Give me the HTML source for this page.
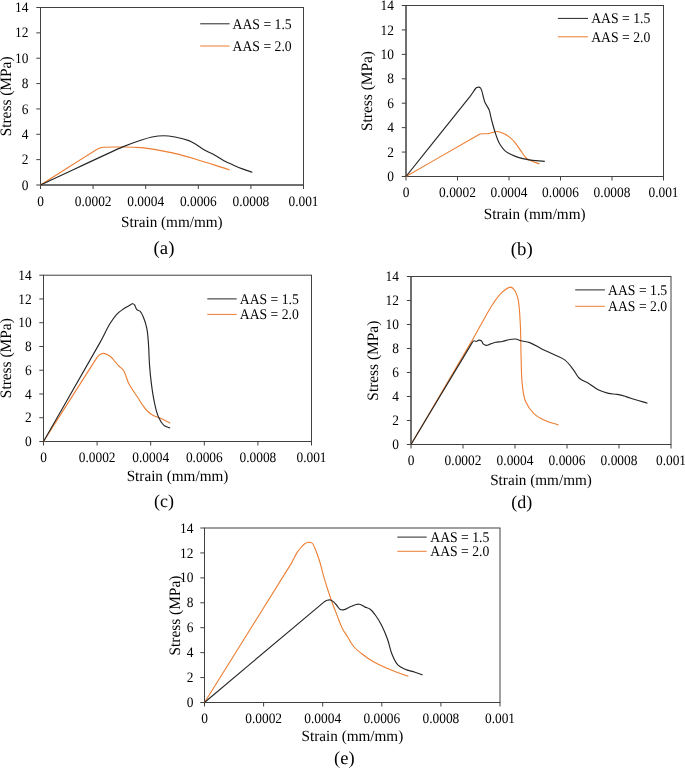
<!DOCTYPE html>
<html><head><meta charset="utf-8"><style>
html,body{margin:0;padding:0;background:#fff;width:685px;height:769px;overflow:hidden;}
svg{display:block;will-change:transform;}
text{font-family:"Liberation Serif", serif;fill:#000;text-rendering:geometricPrecision;}
</style></head><body>
<svg width="685" height="769" viewBox="0 0 685 769">
<rect width="685" height="769" fill="#fff"/>
<rect x="40.50" y="7.50" width="263.00" height="177.50" fill="none" stroke="#404040" stroke-width="1"/>
<line x1="36.30" y1="185.00" x2="40.50" y2="185.00" stroke="#404040" stroke-width="1"/>
<text transform="translate(28.50,189.60) scale(1,1.08)" text-anchor="end" font-size="13.4">0</text>
<line x1="36.30" y1="159.64" x2="40.50" y2="159.64" stroke="#404040" stroke-width="1"/>
<text transform="translate(28.50,164.24) scale(1,1.08)" text-anchor="end" font-size="13.4">2</text>
<line x1="36.30" y1="134.29" x2="40.50" y2="134.29" stroke="#404040" stroke-width="1"/>
<text transform="translate(28.50,138.89) scale(1,1.08)" text-anchor="end" font-size="13.4">4</text>
<line x1="36.30" y1="108.93" x2="40.50" y2="108.93" stroke="#404040" stroke-width="1"/>
<text transform="translate(28.50,113.53) scale(1,1.08)" text-anchor="end" font-size="13.4">6</text>
<line x1="36.30" y1="83.57" x2="40.50" y2="83.57" stroke="#404040" stroke-width="1"/>
<text transform="translate(28.50,88.17) scale(1,1.08)" text-anchor="end" font-size="13.4">8</text>
<line x1="36.30" y1="58.21" x2="40.50" y2="58.21" stroke="#404040" stroke-width="1"/>
<text transform="translate(28.50,62.81) scale(1,1.08)" text-anchor="end" font-size="13.4">10</text>
<line x1="36.30" y1="32.86" x2="40.50" y2="32.86" stroke="#404040" stroke-width="1"/>
<text transform="translate(28.50,37.46) scale(1,1.08)" text-anchor="end" font-size="13.4">12</text>
<line x1="36.30" y1="7.50" x2="40.50" y2="7.50" stroke="#404040" stroke-width="1"/>
<text transform="translate(28.50,12.10) scale(1,1.08)" text-anchor="end" font-size="13.4">14</text>
<line x1="40.50" y1="185.00" x2="40.50" y2="189.00" stroke="#404040" stroke-width="1"/>
<text transform="translate(40.50,205.70) scale(1,1.08)" text-anchor="middle" font-size="13.4">0</text>
<line x1="93.10" y1="185.00" x2="93.10" y2="189.00" stroke="#404040" stroke-width="1"/>
<text transform="translate(93.10,205.70) scale(1,1.08)" text-anchor="middle" font-size="13.4">0.0002</text>
<line x1="145.70" y1="185.00" x2="145.70" y2="189.00" stroke="#404040" stroke-width="1"/>
<text transform="translate(145.70,205.70) scale(1,1.08)" text-anchor="middle" font-size="13.4">0.0004</text>
<line x1="198.30" y1="185.00" x2="198.30" y2="189.00" stroke="#404040" stroke-width="1"/>
<text transform="translate(198.30,205.70) scale(1,1.08)" text-anchor="middle" font-size="13.4">0.0006</text>
<line x1="250.90" y1="185.00" x2="250.90" y2="189.00" stroke="#404040" stroke-width="1"/>
<text transform="translate(250.90,205.70) scale(1,1.08)" text-anchor="middle" font-size="13.4">0.0008</text>
<line x1="303.50" y1="185.00" x2="303.50" y2="189.00" stroke="#404040" stroke-width="1"/>
<text transform="translate(303.50,205.70) scale(1,1.08)" text-anchor="middle" font-size="13.4">0.001</text>
<line x1="40.50" y1="7.50" x2="40.50" y2="185.00" stroke="#404040" stroke-width="1"/>
<line x1="40.50" y1="185.00" x2="303.50" y2="185.00" stroke="#404040" stroke-width="1"/>
<path d="M40.50,185.00 C60.83,172.26 96.40,149.59 98.60,148.60 C100.06,147.94 101.41,147.54 103.00,147.30 C105.38,146.94 115.35,146.95 122.00,147.00 C128.65,147.05 134.37,147.01 141.00,147.60 C146.57,148.09 151.29,148.95 156.80,149.90 C163.38,151.03 169.01,152.06 175.50,153.60 C182.39,155.23 188.21,156.99 195.00,159.00 C205.19,162.01 217.49,166.09 229.60,169.90" fill="none" stroke="#ED7D31" stroke-width="1.1" stroke-linejoin="round"/>
<path d="M40.50,185.00 C69.27,171.66 113.76,150.62 122.70,146.90 C128.66,144.42 133.87,142.53 140.00,140.50 C144.15,139.13 147.71,137.86 152.00,137.00 C156.01,136.20 159.51,135.70 163.60,135.70 C167.62,135.70 171.05,136.26 175.00,137.00 C179.91,137.92 185.38,139.29 188.80,140.60 C191.08,141.47 192.89,142.57 195.00,143.80 C198.17,145.64 201.06,148.02 204.50,150.00 C208.03,152.03 211.34,153.24 214.90,155.20 C217.98,156.90 220.40,158.73 223.50,160.40 C226.74,162.14 229.64,163.39 233.00,164.90 C236.26,166.37 239.06,167.62 242.40,168.90 C245.85,170.22 248.90,171.11 252.40,172.30" fill="none" stroke="#262626" stroke-width="1.15" stroke-linejoin="round"/>
<line x1="200.2" y1="23.8" x2="229.6" y2="23.8" stroke="#262626" stroke-width="1"/>
<line x1="200.2" y1="46.0" x2="229.6" y2="46.0" stroke="#ED7D31" stroke-width="1"/>
<text transform="translate(232.6,28.60) scale(1,1.08)" font-size="13.7">AAS = 1.5</text>
<text transform="translate(232.6,50.80) scale(1,1.08)" font-size="13.7">AAS = 2.0</text>
<text transform="translate(11.10,96.40) rotate(-90) scale(1,1.03)" text-anchor="middle" font-size="15.4">Stress (MPa)</text>
<text transform="translate(171.80,227.40) scale(1,1.03)" text-anchor="middle" font-size="15.2">Strain (mm/mm)</text>
<text x="164.00" y="254.40" text-anchor="middle" font-size="18.8">(a)</text>
<rect x="406.00" y="5.50" width="257.50" height="171.00" fill="none" stroke="#404040" stroke-width="1"/>
<line x1="401.80" y1="176.50" x2="406.00" y2="176.50" stroke="#404040" stroke-width="1"/>
<text transform="translate(394.00,181.10) scale(1,1.08)" text-anchor="end" font-size="13.4">0</text>
<line x1="401.80" y1="152.07" x2="406.00" y2="152.07" stroke="#404040" stroke-width="1"/>
<text transform="translate(394.00,156.67) scale(1,1.08)" text-anchor="end" font-size="13.4">2</text>
<line x1="401.80" y1="127.64" x2="406.00" y2="127.64" stroke="#404040" stroke-width="1"/>
<text transform="translate(394.00,132.24) scale(1,1.08)" text-anchor="end" font-size="13.4">4</text>
<line x1="401.80" y1="103.21" x2="406.00" y2="103.21" stroke="#404040" stroke-width="1"/>
<text transform="translate(394.00,107.81) scale(1,1.08)" text-anchor="end" font-size="13.4">6</text>
<line x1="401.80" y1="78.79" x2="406.00" y2="78.79" stroke="#404040" stroke-width="1"/>
<text transform="translate(394.00,83.39) scale(1,1.08)" text-anchor="end" font-size="13.4">8</text>
<line x1="401.80" y1="54.36" x2="406.00" y2="54.36" stroke="#404040" stroke-width="1"/>
<text transform="translate(394.00,58.96) scale(1,1.08)" text-anchor="end" font-size="13.4">10</text>
<line x1="401.80" y1="29.93" x2="406.00" y2="29.93" stroke="#404040" stroke-width="1"/>
<text transform="translate(394.00,34.53) scale(1,1.08)" text-anchor="end" font-size="13.4">12</text>
<line x1="401.80" y1="5.50" x2="406.00" y2="5.50" stroke="#404040" stroke-width="1"/>
<text transform="translate(394.00,10.10) scale(1,1.08)" text-anchor="end" font-size="13.4">14</text>
<line x1="406.00" y1="176.50" x2="406.00" y2="180.50" stroke="#404040" stroke-width="1"/>
<text transform="translate(406.00,197.20) scale(1,1.08)" text-anchor="middle" font-size="13.4">0</text>
<line x1="457.50" y1="176.50" x2="457.50" y2="180.50" stroke="#404040" stroke-width="1"/>
<text transform="translate(457.50,197.20) scale(1,1.08)" text-anchor="middle" font-size="13.4">0.0002</text>
<line x1="509.00" y1="176.50" x2="509.00" y2="180.50" stroke="#404040" stroke-width="1"/>
<text transform="translate(509.00,197.20) scale(1,1.08)" text-anchor="middle" font-size="13.4">0.0004</text>
<line x1="560.50" y1="176.50" x2="560.50" y2="180.50" stroke="#404040" stroke-width="1"/>
<text transform="translate(560.50,197.20) scale(1,1.08)" text-anchor="middle" font-size="13.4">0.0006</text>
<line x1="612.00" y1="176.50" x2="612.00" y2="180.50" stroke="#404040" stroke-width="1"/>
<text transform="translate(612.00,197.20) scale(1,1.08)" text-anchor="middle" font-size="13.4">0.0008</text>
<line x1="663.50" y1="176.50" x2="663.50" y2="180.50" stroke="#404040" stroke-width="1"/>
<text transform="translate(663.50,197.20) scale(1,1.08)" text-anchor="middle" font-size="13.4">0.001</text>
<line x1="406.00" y1="5.50" x2="406.00" y2="176.50" stroke="#404040" stroke-width="1"/>
<line x1="406.00" y1="176.50" x2="663.50" y2="176.50" stroke="#404040" stroke-width="1"/>
<path d="M406.00,176.50 C431.73,161.73 478.25,134.77 479.50,134.30 C480.34,133.99 481.11,133.90 482.00,133.80 C483.33,133.66 485.46,133.94 487.30,133.70 C489.48,133.42 491.67,132.60 493.40,132.20 C494.55,131.94 495.52,131.53 496.70,131.50 C497.83,131.47 498.82,131.64 499.90,132.00 C501.51,132.53 506.24,134.72 509.20,136.90 C511.51,138.60 513.14,140.51 515.00,142.70 C517.29,145.39 518.79,148.06 520.90,150.90 C522.89,153.59 524.11,156.38 526.70,158.50 C528.48,159.96 530.49,160.49 532.60,161.40 C535.00,162.43 537.15,163.09 539.60,164.00" fill="none" stroke="#ED7D31" stroke-width="1.1" stroke-linejoin="round"/>
<path d="M406.00,176.50 C428.44,148.47 467.29,100.19 470.10,96.40 C471.98,93.88 474.46,89.83 475.20,89.00 C475.69,88.44 476.14,87.95 476.80,87.60 C477.41,87.28 478.02,87.04 478.70,87.10 C479.35,87.16 479.94,87.43 480.40,87.90 C481.10,88.60 481.41,89.81 481.80,90.90 C482.38,92.54 482.80,95.01 483.40,97.20 C483.92,99.10 484.21,100.79 485.00,102.60 C485.63,104.05 486.54,105.11 487.30,106.50 C488.04,107.84 488.77,108.96 489.30,110.40 C490.09,112.53 490.26,114.50 490.80,116.70 C491.48,119.44 492.05,121.78 492.80,124.50 C493.56,127.24 494.23,129.59 495.10,132.30 C495.98,135.02 496.67,137.38 497.80,140.00 C498.61,141.88 499.38,143.48 500.50,145.20 C501.90,147.35 503.11,149.29 505.10,150.90 C508.09,153.32 512.87,155.45 517.40,157.10 C520.95,158.40 524.18,158.96 527.90,159.60 C533.48,160.56 538.88,160.77 544.80,161.40" fill="none" stroke="#262626" stroke-width="1.15" stroke-linejoin="round"/>
<line x1="557.9" y1="18.4" x2="588.0" y2="18.4" stroke="#262626" stroke-width="1"/>
<line x1="557.9" y1="36.8" x2="588.0" y2="36.8" stroke="#ED7D31" stroke-width="1"/>
<text transform="translate(591.2,23.20) scale(1,1.08)" font-size="13.7">AAS = 1.5</text>
<text transform="translate(591.2,41.60) scale(1,1.08)" font-size="13.7">AAS = 2.0</text>
<text transform="translate(372.40,91.00) rotate(-90) scale(1,1.03)" text-anchor="middle" font-size="15.4">Stress (MPa)</text>
<text transform="translate(534.70,219.00) scale(1,1.03)" text-anchor="middle" font-size="15.2">Strain (mm/mm)</text>
<text x="521.80" y="254.75" text-anchor="middle" font-size="18.8">(b)</text>
<rect x="43.50" y="275.20" width="268.00" height="166.30" fill="none" stroke="#404040" stroke-width="1"/>
<line x1="39.30" y1="441.50" x2="43.50" y2="441.50" stroke="#404040" stroke-width="1"/>
<text transform="translate(31.60,446.10) scale(1,1.08)" text-anchor="end" font-size="13.4">0</text>
<line x1="39.30" y1="417.74" x2="43.50" y2="417.74" stroke="#404040" stroke-width="1"/>
<text transform="translate(31.60,422.34) scale(1,1.08)" text-anchor="end" font-size="13.4">2</text>
<line x1="39.30" y1="393.99" x2="43.50" y2="393.99" stroke="#404040" stroke-width="1"/>
<text transform="translate(31.60,398.59) scale(1,1.08)" text-anchor="end" font-size="13.4">4</text>
<line x1="39.30" y1="370.23" x2="43.50" y2="370.23" stroke="#404040" stroke-width="1"/>
<text transform="translate(31.60,374.83) scale(1,1.08)" text-anchor="end" font-size="13.4">6</text>
<line x1="39.30" y1="346.47" x2="43.50" y2="346.47" stroke="#404040" stroke-width="1"/>
<text transform="translate(31.60,351.07) scale(1,1.08)" text-anchor="end" font-size="13.4">8</text>
<line x1="39.30" y1="322.71" x2="43.50" y2="322.71" stroke="#404040" stroke-width="1"/>
<text transform="translate(31.60,327.31) scale(1,1.08)" text-anchor="end" font-size="13.4">10</text>
<line x1="39.30" y1="298.96" x2="43.50" y2="298.96" stroke="#404040" stroke-width="1"/>
<text transform="translate(31.60,303.56) scale(1,1.08)" text-anchor="end" font-size="13.4">12</text>
<line x1="39.30" y1="275.20" x2="43.50" y2="275.20" stroke="#404040" stroke-width="1"/>
<text transform="translate(31.60,279.80) scale(1,1.08)" text-anchor="end" font-size="13.4">14</text>
<line x1="43.50" y1="441.50" x2="43.50" y2="445.50" stroke="#404040" stroke-width="1"/>
<text transform="translate(43.50,461.80) scale(1,1.08)" text-anchor="middle" font-size="13.4">0</text>
<line x1="97.10" y1="441.50" x2="97.10" y2="445.50" stroke="#404040" stroke-width="1"/>
<text transform="translate(97.10,461.80) scale(1,1.08)" text-anchor="middle" font-size="13.4">0.0002</text>
<line x1="150.70" y1="441.50" x2="150.70" y2="445.50" stroke="#404040" stroke-width="1"/>
<text transform="translate(150.70,461.80) scale(1,1.08)" text-anchor="middle" font-size="13.4">0.0004</text>
<line x1="204.30" y1="441.50" x2="204.30" y2="445.50" stroke="#404040" stroke-width="1"/>
<text transform="translate(204.30,461.80) scale(1,1.08)" text-anchor="middle" font-size="13.4">0.0006</text>
<line x1="257.90" y1="441.50" x2="257.90" y2="445.50" stroke="#404040" stroke-width="1"/>
<text transform="translate(257.90,461.80) scale(1,1.08)" text-anchor="middle" font-size="13.4">0.0008</text>
<line x1="311.50" y1="441.50" x2="311.50" y2="445.50" stroke="#404040" stroke-width="1"/>
<text transform="translate(311.50,461.80) scale(1,1.08)" text-anchor="middle" font-size="13.4">0.001</text>
<line x1="43.50" y1="275.20" x2="43.50" y2="441.50" stroke="#404040" stroke-width="1"/>
<line x1="43.50" y1="441.50" x2="311.50" y2="441.50" stroke="#404040" stroke-width="1"/>
<path d="M43.50,441.50 C62.19,412.13 95.60,359.22 96.90,357.60 C97.77,356.52 98.55,355.57 99.70,354.80 C100.77,354.09 101.81,353.47 103.10,353.40 C104.59,353.32 105.85,353.96 107.20,354.60 C108.84,355.37 110.15,356.29 111.50,357.50 C113.00,358.85 113.89,360.37 115.20,361.90 C116.44,363.35 117.45,364.65 118.80,366.00 C120.29,367.49 122.06,368.29 123.30,370.00 C124.69,371.92 125.12,374.00 126.00,376.20 C126.94,378.55 127.41,380.71 128.50,383.00 C129.65,385.39 130.98,387.26 132.40,389.50 C134.52,392.87 137.17,396.60 138.90,399.30 C140.05,401.10 140.87,402.75 142.10,404.50 C143.78,406.88 145.21,408.97 147.30,411.00 C148.93,412.58 150.53,413.76 152.50,414.90 C154.97,416.33 157.40,416.92 160.00,418.10 C163.61,419.74 166.63,421.29 170.20,423.00" fill="none" stroke="#ED7D31" stroke-width="1.1" stroke-linejoin="round"/>
<path d="M43.50,441.50 C63.31,406.81 94.64,352.34 100.10,342.40 C103.74,335.77 106.91,328.55 110.20,323.30 C112.40,319.80 114.37,316.69 117.20,313.80 C119.09,311.87 121.07,310.62 123.30,309.10 C124.99,307.95 126.52,307.10 128.30,306.10 C129.88,305.21 131.71,303.59 132.90,303.70 C133.69,303.77 134.20,304.48 134.70,305.10 C135.45,306.04 135.59,308.35 136.80,309.60 C137.67,310.50 139.09,310.34 140.00,311.20 C141.36,312.49 142.45,314.98 143.40,317.20 C144.83,320.53 145.99,324.32 146.80,328.30 C147.93,333.85 148.06,338.75 148.50,344.40 C149.05,351.46 148.97,357.54 149.50,364.60 C150.02,371.65 150.57,377.69 151.50,384.70 C152.35,391.10 153.09,396.60 154.50,402.90 C155.62,407.91 156.45,412.41 158.50,417.00 C159.86,420.06 161.08,422.90 163.60,425.10 C165.51,426.77 167.89,427.05 170.20,428.10" fill="none" stroke="#262626" stroke-width="1.15" stroke-linejoin="round"/>
<line x1="207.3" y1="298.9" x2="236.7" y2="298.9" stroke="#262626" stroke-width="1"/>
<line x1="207.3" y1="314.4" x2="236.7" y2="314.4" stroke="#ED7D31" stroke-width="1"/>
<text transform="translate(239.8,303.70) scale(1,1.08)" font-size="13.7">AAS = 1.5</text>
<text transform="translate(239.8,319.20) scale(1,1.08)" font-size="13.7">AAS = 2.0</text>
<text transform="translate(11.20,358.20) rotate(-90) scale(1,1.03)" text-anchor="middle" font-size="15.4">Stress (MPa)</text>
<text transform="translate(177.50,481.20) scale(1,1.03)" text-anchor="middle" font-size="15.2">Strain (mm/mm)</text>
<text x="164.10" y="507.40" text-anchor="middle" font-size="18.0">(c)</text>
<rect x="411.00" y="276.50" width="260.00" height="168.00" fill="none" stroke="#404040" stroke-width="1"/>
<line x1="406.80" y1="444.50" x2="411.00" y2="444.50" stroke="#404040" stroke-width="1"/>
<text transform="translate(399.00,449.10) scale(1,1.08)" text-anchor="end" font-size="13.4">0</text>
<line x1="406.80" y1="420.50" x2="411.00" y2="420.50" stroke="#404040" stroke-width="1"/>
<text transform="translate(399.00,425.10) scale(1,1.08)" text-anchor="end" font-size="13.4">2</text>
<line x1="406.80" y1="396.50" x2="411.00" y2="396.50" stroke="#404040" stroke-width="1"/>
<text transform="translate(399.00,401.10) scale(1,1.08)" text-anchor="end" font-size="13.4">4</text>
<line x1="406.80" y1="372.50" x2="411.00" y2="372.50" stroke="#404040" stroke-width="1"/>
<text transform="translate(399.00,377.10) scale(1,1.08)" text-anchor="end" font-size="13.4">6</text>
<line x1="406.80" y1="348.50" x2="411.00" y2="348.50" stroke="#404040" stroke-width="1"/>
<text transform="translate(399.00,353.10) scale(1,1.08)" text-anchor="end" font-size="13.4">8</text>
<line x1="406.80" y1="324.50" x2="411.00" y2="324.50" stroke="#404040" stroke-width="1"/>
<text transform="translate(399.00,329.10) scale(1,1.08)" text-anchor="end" font-size="13.4">10</text>
<line x1="406.80" y1="300.50" x2="411.00" y2="300.50" stroke="#404040" stroke-width="1"/>
<text transform="translate(399.00,305.10) scale(1,1.08)" text-anchor="end" font-size="13.4">12</text>
<line x1="406.80" y1="276.50" x2="411.00" y2="276.50" stroke="#404040" stroke-width="1"/>
<text transform="translate(399.00,281.10) scale(1,1.08)" text-anchor="end" font-size="13.4">14</text>
<line x1="411.00" y1="444.50" x2="411.00" y2="448.50" stroke="#404040" stroke-width="1"/>
<text transform="translate(411.00,464.70) scale(1,1.08)" text-anchor="middle" font-size="13.4">0</text>
<line x1="463.00" y1="444.50" x2="463.00" y2="448.50" stroke="#404040" stroke-width="1"/>
<text transform="translate(463.00,464.70) scale(1,1.08)" text-anchor="middle" font-size="13.4">0.0002</text>
<line x1="515.00" y1="444.50" x2="515.00" y2="448.50" stroke="#404040" stroke-width="1"/>
<text transform="translate(515.00,464.70) scale(1,1.08)" text-anchor="middle" font-size="13.4">0.0004</text>
<line x1="567.00" y1="444.50" x2="567.00" y2="448.50" stroke="#404040" stroke-width="1"/>
<text transform="translate(567.00,464.70) scale(1,1.08)" text-anchor="middle" font-size="13.4">0.0006</text>
<line x1="619.00" y1="444.50" x2="619.00" y2="448.50" stroke="#404040" stroke-width="1"/>
<text transform="translate(619.00,464.70) scale(1,1.08)" text-anchor="middle" font-size="13.4">0.0008</text>
<line x1="671.00" y1="444.50" x2="671.00" y2="448.50" stroke="#404040" stroke-width="1"/>
<text transform="translate(671.00,464.70) scale(1,1.08)" text-anchor="middle" font-size="13.4">0.001</text>
<line x1="411.00" y1="276.50" x2="411.00" y2="444.50" stroke="#404040" stroke-width="1"/>
<line x1="411.00" y1="444.50" x2="671.00" y2="444.50" stroke="#404040" stroke-width="1"/>
<path d="M411.00,444.50 C432.11,408.59 465.36,352.28 471.30,341.90 C475.26,334.98 478.44,328.92 482.40,322.00 C486.18,315.38 489.18,309.31 493.40,303.20 C496.22,299.13 498.57,295.46 502.30,292.20 C504.89,289.94 508.24,286.95 510.70,287.10 C512.34,287.20 513.42,288.68 514.40,290.00 C515.87,291.99 517.37,296.28 518.20,299.90 C519.45,305.33 519.83,315.68 520.30,324.20 C520.94,335.81 520.70,345.78 521.10,357.40 C521.42,366.89 521.23,375.47 522.30,384.50 C523.01,390.52 523.25,395.91 525.60,401.50 C527.63,406.32 530.29,410.21 534.10,413.80 C537.35,416.86 540.95,418.53 545.00,420.40 C549.55,422.50 553.84,423.32 558.60,424.90" fill="none" stroke="#ED7D31" stroke-width="1.1" stroke-linejoin="round"/>
<path d="M411.00,444.50 C432.11,409.36 470.01,345.93 471.30,344.10 C472.16,342.88 472.84,341.14 474.00,340.80 C474.77,340.57 475.39,341.56 476.20,341.50 C477.29,341.41 477.91,340.19 479.00,340.10 C479.84,340.03 480.62,340.30 481.30,340.80 C482.31,341.55 482.45,343.20 483.50,344.10 C484.32,344.80 485.22,345.34 486.30,345.40 C487.70,345.47 488.77,344.55 490.10,344.10 C492.02,343.46 493.62,342.74 495.60,342.30 C497.91,341.79 499.98,341.95 502.30,341.50 C504.65,341.04 506.55,340.14 508.90,339.70 C511.18,339.27 513.19,338.75 515.50,339.00 C517.48,339.21 518.98,340.28 520.90,340.80 C523.79,341.57 526.74,341.54 529.70,342.60 C534.14,344.18 537.45,346.80 541.70,348.90 C546.64,351.34 551.39,353.27 556.00,355.50 C559.07,356.99 562.00,357.81 564.70,359.90 C568.39,362.75 570.64,366.21 573.50,369.90 C575.60,372.61 576.48,375.68 579.00,378.00 C581.90,380.66 585.45,381.45 588.80,383.50 C592.35,385.68 594.96,388.26 598.70,390.10 C601.95,391.70 604.97,392.61 608.50,393.40 C611.53,394.07 614.25,393.84 617.30,394.40 C620.39,394.96 622.98,395.72 626.00,396.60 C629.11,397.51 631.70,398.54 634.80,399.50 C639.22,400.87 643.05,401.90 647.50,403.20" fill="none" stroke="#262626" stroke-width="1.15" stroke-linejoin="round"/>
<line x1="575.2" y1="289.9" x2="604.9" y2="289.9" stroke="#262626" stroke-width="1"/>
<line x1="575.2" y1="306.3" x2="604.9" y2="306.3" stroke="#ED7D31" stroke-width="1"/>
<text transform="translate(608.1,294.70) scale(1,1.08)" font-size="13.7">AAS = 1.5</text>
<text transform="translate(608.1,311.10) scale(1,1.08)" font-size="13.7">AAS = 2.0</text>
<text transform="translate(377.90,360.70) rotate(-90) scale(1,1.03)" text-anchor="middle" font-size="15.4">Stress (MPa)</text>
<text transform="translate(541.00,484.60) scale(1,1.03)" text-anchor="middle" font-size="15.2">Strain (mm/mm)</text>
<text x="521.80" y="507.80" text-anchor="middle" font-size="18.0">(d)</text>
<rect x="204.50" y="528.00" width="295.50" height="174.50" fill="none" stroke="#404040" stroke-width="1"/>
<line x1="200.30" y1="702.50" x2="204.50" y2="702.50" stroke="#404040" stroke-width="1"/>
<text transform="translate(193.50,707.10) scale(1,1.08)" text-anchor="end" font-size="13.4">0</text>
<line x1="200.30" y1="677.57" x2="204.50" y2="677.57" stroke="#404040" stroke-width="1"/>
<text transform="translate(193.50,682.17) scale(1,1.08)" text-anchor="end" font-size="13.4">2</text>
<line x1="200.30" y1="652.64" x2="204.50" y2="652.64" stroke="#404040" stroke-width="1"/>
<text transform="translate(193.50,657.24) scale(1,1.08)" text-anchor="end" font-size="13.4">4</text>
<line x1="200.30" y1="627.71" x2="204.50" y2="627.71" stroke="#404040" stroke-width="1"/>
<text transform="translate(193.50,632.31) scale(1,1.08)" text-anchor="end" font-size="13.4">6</text>
<line x1="200.30" y1="602.79" x2="204.50" y2="602.79" stroke="#404040" stroke-width="1"/>
<text transform="translate(193.50,607.39) scale(1,1.08)" text-anchor="end" font-size="13.4">8</text>
<line x1="200.30" y1="577.86" x2="204.50" y2="577.86" stroke="#404040" stroke-width="1"/>
<text transform="translate(193.50,582.46) scale(1,1.08)" text-anchor="end" font-size="13.4">10</text>
<line x1="200.30" y1="552.93" x2="204.50" y2="552.93" stroke="#404040" stroke-width="1"/>
<text transform="translate(193.50,557.53) scale(1,1.08)" text-anchor="end" font-size="13.4">12</text>
<line x1="200.30" y1="528.00" x2="204.50" y2="528.00" stroke="#404040" stroke-width="1"/>
<text transform="translate(193.50,532.60) scale(1,1.08)" text-anchor="end" font-size="13.4">14</text>
<line x1="204.50" y1="702.50" x2="204.50" y2="706.50" stroke="#404040" stroke-width="1"/>
<text transform="translate(204.50,723.20) scale(1,1.08)" text-anchor="middle" font-size="13.4">0</text>
<line x1="263.60" y1="702.50" x2="263.60" y2="706.50" stroke="#404040" stroke-width="1"/>
<text transform="translate(263.60,723.20) scale(1,1.08)" text-anchor="middle" font-size="13.4">0.0002</text>
<line x1="322.70" y1="702.50" x2="322.70" y2="706.50" stroke="#404040" stroke-width="1"/>
<text transform="translate(322.70,723.20) scale(1,1.08)" text-anchor="middle" font-size="13.4">0.0004</text>
<line x1="381.80" y1="702.50" x2="381.80" y2="706.50" stroke="#404040" stroke-width="1"/>
<text transform="translate(381.80,723.20) scale(1,1.08)" text-anchor="middle" font-size="13.4">0.0006</text>
<line x1="440.90" y1="702.50" x2="440.90" y2="706.50" stroke="#404040" stroke-width="1"/>
<text transform="translate(440.90,723.20) scale(1,1.08)" text-anchor="middle" font-size="13.4">0.0008</text>
<line x1="500.00" y1="702.50" x2="500.00" y2="706.50" stroke="#404040" stroke-width="1"/>
<text transform="translate(500.00,723.20) scale(1,1.08)" text-anchor="middle" font-size="13.4">0.001</text>
<line x1="204.50" y1="528.00" x2="204.50" y2="702.50" stroke="#404040" stroke-width="1"/>
<line x1="204.50" y1="702.50" x2="500.00" y2="702.50" stroke="#404040" stroke-width="1"/>
<path d="M204.50,702.50 C234.77,653.99 287.40,570.09 291.00,563.90 C293.40,559.77 295.65,554.66 297.50,551.90 C298.73,550.06 300.00,548.63 301.50,547.00 C302.69,545.70 303.60,544.42 305.10,543.50 C306.20,542.82 307.31,542.39 308.60,542.30 C309.74,542.22 310.86,542.25 311.80,542.90 C313.21,543.87 313.70,545.68 314.50,547.30 C315.70,549.73 316.44,552.15 317.40,554.80 C318.37,557.47 319.18,559.78 320.00,562.50 C321.23,566.59 322.16,571.18 323.50,575.80 C325.52,582.73 328.04,590.75 330.80,598.70 C332.85,604.60 334.83,609.58 337.10,615.40 C338.97,620.18 340.27,624.47 342.60,629.00 C344.15,632.02 345.98,634.33 347.80,637.20 C349.86,640.46 351.20,643.57 353.70,646.50 C356.52,649.80 359.56,652.06 363.00,654.70 C366.50,657.39 369.68,659.49 373.50,661.70 C377.86,664.22 381.79,666.06 386.40,668.10 C390.01,669.70 393.20,670.82 396.90,672.20 C400.90,673.69 404.38,674.87 408.40,676.30" fill="none" stroke="#ED7D31" stroke-width="1.1" stroke-linejoin="round"/>
<path d="M204.50,702.50 C246.61,667.12 323.58,602.16 324.80,601.40 C325.61,600.89 326.38,600.54 327.30,600.30 C328.32,600.03 329.26,599.80 330.30,600.00 C331.35,600.20 332.15,600.77 333.00,601.40 C334.28,602.35 335.32,603.70 336.50,605.00 C337.85,606.49 338.40,608.51 340.20,609.40 C341.49,610.04 342.89,609.88 344.30,609.60 C346.41,609.18 348.51,607.39 350.90,606.50 C353.73,605.45 356.20,603.92 359.20,604.20 C361.49,604.41 363.00,606.17 365.10,607.10 C366.75,607.83 368.42,607.97 369.90,609.00 C372.13,610.55 373.61,612.73 375.30,615.00 C377.83,618.40 379.74,621.67 381.70,625.50 C384.12,630.23 385.79,634.50 387.60,639.50 C389.49,644.73 390.02,649.59 392.20,654.70 C393.85,658.58 395.15,662.19 398.10,665.20 C400.09,667.23 402.49,668.17 405.10,669.30 C408.42,670.73 411.57,671.07 415.00,672.20 C417.69,673.09 419.94,674.02 422.60,675.00" fill="none" stroke="#262626" stroke-width="1.15" stroke-linejoin="round"/>
<line x1="397.3" y1="537.1" x2="426.7" y2="537.1" stroke="#262626" stroke-width="1"/>
<line x1="397.3" y1="551.3" x2="426.7" y2="551.3" stroke="#ED7D31" stroke-width="1"/>
<text transform="translate(430.3,541.90) scale(1,1.08)" font-size="13.7">AAS = 1.5</text>
<text transform="translate(430.3,556.10) scale(1,1.08)" font-size="13.7">AAS = 2.0</text>
<text transform="translate(180.00,615.60) rotate(-90) scale(1,1.03)" text-anchor="middle" font-size="15.4">Stress (MPa)</text>
<text transform="translate(352.40,741.40) scale(1,1.03)" text-anchor="middle" font-size="15.2">Strain (mm/mm)</text>
<text x="344.30" y="763.80" text-anchor="middle" font-size="18.5">(e)</text>
</svg>
</body></html>
